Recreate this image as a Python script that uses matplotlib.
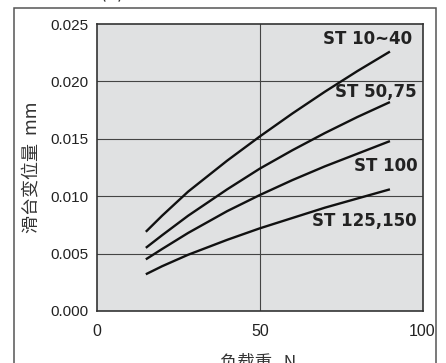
import matplotlib
matplotlib.use("Agg")
import matplotlib.pyplot as plt
from matplotlib.patches import Rectangle

# ---- data (displacement in mm vs load N) ----
load = [15, 20, 28, 40, 50, 60, 70, 80, 90]
st_10_40 = [0.0069, 0.0083, 0.0104, 0.0131, 0.0152, 0.0172, 0.0191, 0.0209, 0.0226]
st_50_75 = [0.0055, 0.0066, 0.0083, 0.0106, 0.0124, 0.0140, 0.0155, 0.0169, 0.0182]
st_100 = [0.0045, 0.0054, 0.0068, 0.0087, 0.0101, 0.0114, 0.0126, 0.0137, 0.0148]
st_125_150 = [0.0032, 0.0039, 0.0049, 0.0062, 0.0072, 0.0081, 0.0090, 0.0098, 0.0106]
series_labels = ["ST 10~40", "ST 50,75", "ST 100", "ST 125,150"]
label_pos = [(96.8, 0.0237), (98.3, 0.0191), (98.6, 0.0126), (98.3, 0.0078)]
x_ticks = [0, 50, 100]
y_ticks = [0.000, 0.005, 0.010, 0.015, 0.020, 0.025]
y_tick_labels = ["0.000", "0.005", "0.010", "0.015", "0.020", "0.025"]
title_text = "(2) 滑台变位量—负载重  L: 200mm"
xlabel_text = "负载重   N"
ylabel_text = "滑台变位量  mm"

CJK = ["Noto Sans CJK SC", "DejaVu Sans"]
NUM = ["Liberation Sans", "DejaVu Sans"]

fig = plt.figure(figsize=(4.46, 3.63), dpi=100)
fig.patch.set_facecolor("white")

# outer frame
fig.patches.append(Rectangle((13.5 / 446, -0.05), (436 - 13.5) / 446, 1.05 - 8 / 363,
                             transform=fig.transFigure, fill=False,
                             edgecolor="#555555", lw=1.1, clip_on=False))

ax = fig.add_axes([97 / 446, 52 / 363, 325.5 / 446, 287 / 363])
ax.set_facecolor("#e0e1e2")
ax.set_xlim(0, 100)
ax.set_ylim(0, 0.025)

for s in ax.spines.values():
    s.set_color("#333333")
    s.set_linewidth(1.2)

# grid
for yv in y_ticks[1:-1]:
    ax.axhline(yv, color="#444444", lw=0.8, zorder=1)
ax.axvline(50, color="#444444", lw=0.8, zorder=1)

for ys in [st_10_40, st_50_75, st_100, st_125_150]:
    ax.plot(load, ys, color="#111111", lw=1.7, solid_capstyle="butt", zorder=3)

for lab, (lx, ly) in zip(series_labels, label_pos):
    ax.text(lx, ly, lab, ha="right", va="center", fontsize=12,
            fontweight="bold", family="DejaVu Sans", color="#222222", zorder=4)

ax.set_xticks(x_ticks)
ax.set_xticklabels([str(v) for v in x_ticks], family=NUM, fontsize=11.5, color="#222222")
ax.set_yticks(y_ticks)
ax.set_yticklabels(y_tick_labels, family=NUM, fontsize=11, color="#222222")
ax.tick_params(axis="both", length=0)
ax.tick_params(axis="y", pad=6)
ax.tick_params(axis="x", pad=9)

ax.set_ylabel(ylabel_text, family=CJK, fontsize=13, color="#333333")
ax.yaxis.set_label_coords(-0.172, 0.5)

fig.text(258 / 446, 1 - 354 / 363, xlabel_text, ha="center", va="top",
         family=CJK, fontsize=12.5, color="#333333")

fig.text(100 / 446, 1 + 1.5 / 363, title_text, ha="left", va="baseline",
         family=CJK, fontsize=14, color="#333333")

fig.savefig("out.png", dpi=100)
